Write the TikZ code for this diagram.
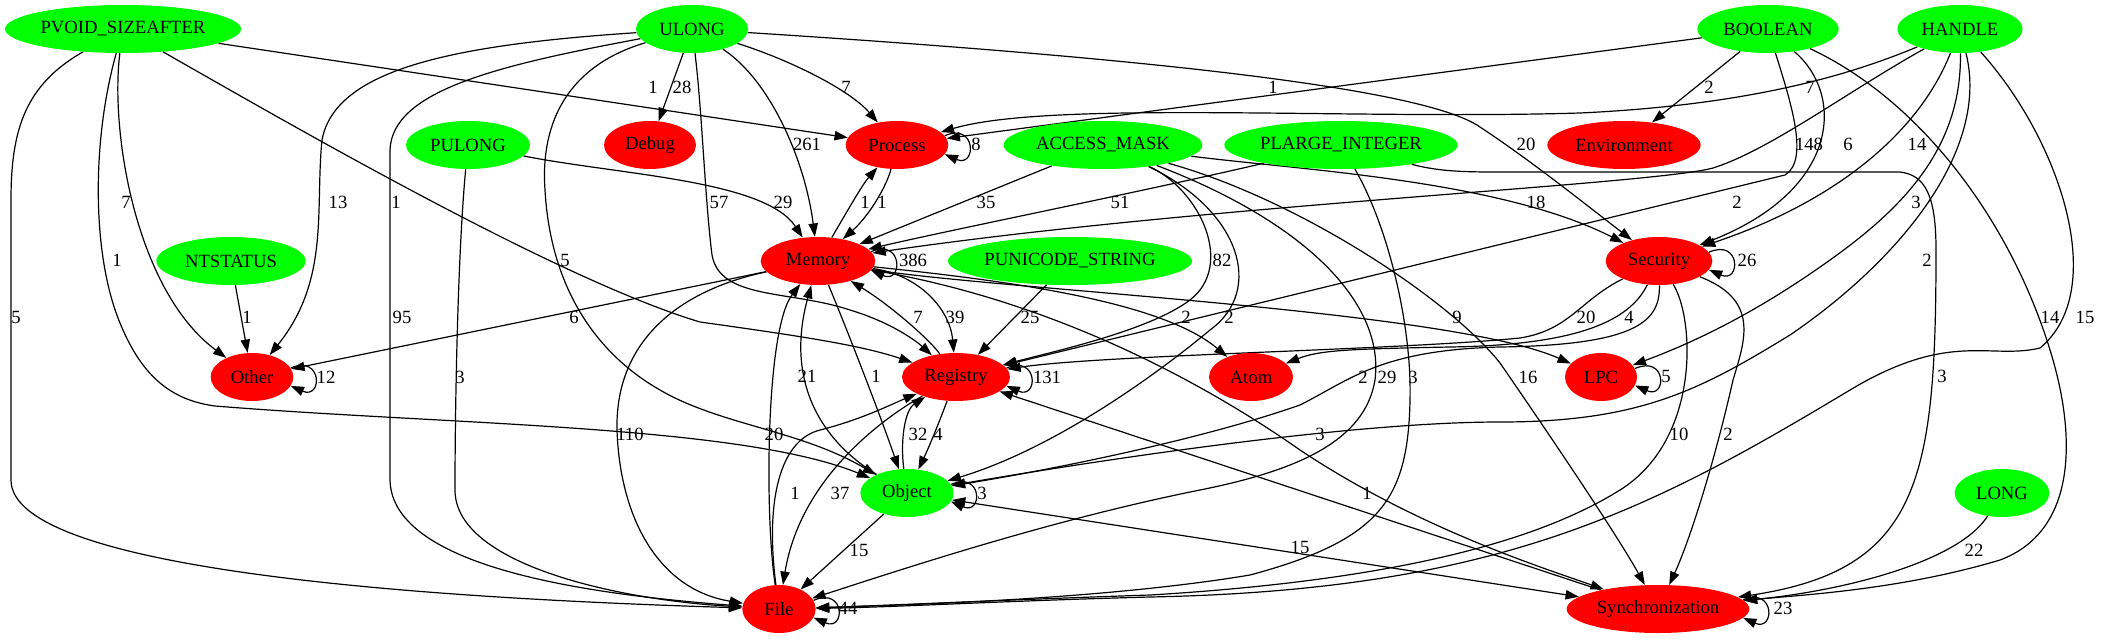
\documentclass[tikz,border=0pt]{standalone}
\usepackage{fontspec}
\setmainfont{Liberation Serif}
\usetikzlibrary{shapes.geometric,arrows.meta,backgrounds}
\definecolor{gcol}{HTML}{00FF00}
\definecolor{rcol}{HTML}{FF0000}
\newcommand{\nloop}[2]{\draw[conn] (#1.#2) .. controls +(32,-14) and +(32,14) .. (#1.-#2);}
\begin{document}
\begin{tikzpicture}[x=0.75pt,y=-0.75pt,
  vn/.style={ellipse,draw=none,inner sep=0pt,minimum height=36pt,font=\fontsize{14}{16}\selectfont},
  gn/.style={vn,fill=gcol},
  rn/.style={vn,fill=rcol},
  conn/.style={draw=black,line width=0.9pt,-{Triangle[length=10pt,width=7pt]}},
  conn2/.style={conn,{Triangle[length=10pt,width=7pt]}-{Triangle[length=10pt,width=7pt]}},
  lab/.style={inner sep=0pt,font=\fontsize{14}{16}\selectfont}]
\useasboundingbox (0,0) rectangle (2101,639);
% nodes
\node[gn,minimum width=177pt] (PV) at (123,29) {PVOID\_SIZEAFTER};
\node[gn,minimum width=84pt] (UL) at (692,29) {ULONG};
\node[gn,minimum width=106pt] (BO) at (1768,29) {BOOLEAN};
\node[gn,minimum width=94pt] (HA) at (1960,29) {HANDLE};
\node[gn,minimum width=93pt] (PU) at (468,145) {PULONG};
\node[rn,minimum width=69pt] (DE) at (650,145) {Debug};
\node[rn,minimum width=77pt] (PR) at (897,145) {Process};
\node[gn,minimum width=149pt] (AM) at (1103,145) {ACCESS\_MASK};
\node[gn,minimum width=175pt] (PL) at (1341,145) {PLARGE\_INTEGER};
\node[rn,minimum width=115pt] (EN) at (1624,145) {Environment};
\node[gn,minimum width=112pt] (NT) at (231,261) {NTSTATUS};
\node[rn,minimum width=86pt] (ME) at (818,261) {Memory};
\node[gn,minimum width=183pt] (PS) at (1070,261) {PUNICODE\_STRING};
\node[rn,minimum width=80pt] (SE) at (1659,261) {Security};
\node[rn,minimum width=62pt] (OT) at (252,377) {Other};
\node[rn,minimum width=81pt] (RE) at (956,377) {Registry};
\node[rn,minimum width=63pt] (AT) at (1251,377) {Atom};
\node[rn,minimum width=54pt] (LP) at (1601,377) {LPC};
\node[gn,minimum width=70pt] (OB) at (907,493) {Object};
\node[gn,minimum width=71pt] (LO) at (2002,493) {LONG};
\node[rn,minimum width=55pt] (FI) at (779,609) {File};
\node[rn,minimum width=137pt] (SY) at (1658,609) {Synchronization};
% edges
\begin{scope}[on background layer]
% PVOID_SIZEAFTER
\draw[conn] (PV) -- (PR);
\draw[conn] (PV) .. controls (110,130) and (135,290) .. (OT);
\draw[conn] (PV) .. controls (92,140) and (92,250) .. (118,318) .. controls (140,375) and (170,400) .. (215,406) .. controls (450,425) and (740,425) .. (OB);
\draw[conn] (PV) .. controls (25,85) and (11,130) .. (11,200) -- (11,480) .. controls (11,570) and (420,598) .. (FI);
\draw[conn] (PV) .. controls (300,130) and (560,280) .. (700,322) .. controls (800,336) and (860,345) .. (RE);
% ULONG
\draw[conn] (UL) -- (DE);
\draw[conn] (UL) .. controls (790,60) and (850,90) .. (PR);
\draw[conn] (UL) .. controls (770,80) and (805,160) .. (ME);
\draw[conn] (UL) .. controls (450,45) and (335,70) .. (322,140) .. controls (315,210) and (330,280) .. (OT);
\draw[conn] (UL) .. controls (500,65) and (392,90) .. (390,150) -- (390,480) .. controls (392,570) and (600,595) .. (FI);
\draw[conn] (UL) .. controls (570,65) and (540,120) .. (545,190) .. controls (550,280) and (590,350) .. (660,390) .. controls (720,425) and (800,430) .. (OB);
\draw[conn] (UL) .. controls (702,110) and (705,200) .. (712,255) .. controls (720,300) and (790,290) .. (850,310) .. controls (890,322) and (915,340) .. (RE);
\draw[conn] (UL) .. controls (1100,55) and (1420,85) .. (1480,127) .. controls (1530,160) and (1580,200) .. (SE);
% PULONG, NTSTATUS
\draw[conn] (PU) .. controls (620,175) and (765,180) .. (ME);
\draw[conn] (PU) .. controls (458,250) and (455,400) .. (455,490) .. controls (455,565) and (620,600) .. (FI);
\draw[conn] (NT) -- (OT);
% BOOLEAN
\draw[conn] (BO) -- (PR);
\draw[conn] (BO) -- (EN);
\draw[conn] (BO) .. controls (1845,95) and (1840,190) .. (SE);
\draw[conn] (BO) .. controls (1790,100) and (1810,160) .. (1785,175) -- (RE);
\draw[conn] (BO) .. controls (1920,100) and (2010,220) .. (2050,350) .. controls (2075,430) and (2080,530) .. (2000,560) .. controls (1900,590) and (1800,595) .. (SY);
% HANDLE
\draw[conn] (HA) .. controls (1850,75) and (1750,105) .. (1580,113) .. controls (1350,120) and (1050,100) .. (PR);
\draw[conn] (HA) .. controls (1850,90) and (1770,150) .. (1713,168) .. controls (1650,185) and (1200,205) .. (ME);
\draw[conn] (HA) .. controls (1920,130) and (1840,200) .. (SE);
\draw[conn] (HA) .. controls (1962,150) and (1900,210) .. (1830,260) .. controls (1760,310) and (1700,340) .. (LP);
\draw[conn] (HA) .. controls (1990,150) and (1900,260) .. (1790,335) .. controls (1700,390) and (1640,422) .. (1500,422) .. controls (1350,422) and (1100,460) .. (OB);
\draw[conn] (HA) .. controls (2060,140) and (2110,290) .. (2040,348) .. controls (1990,360) and (1950,330) .. (1850,390) .. controls (1650,510) and (1500,590) .. (1150,597) .. controls (1000,601) and (900,607) .. (FI);
% ACCESS_MASK
\draw[conn] (AM) -- (ME);
\draw[conn] (AM) .. controls (1300,170) and (1500,180) .. (SE);
\draw[conn] (AM) .. controls (1200,190) and (1235,265) .. (1190,300) .. controls (1150,330) and (1060,350) .. (RE);
\draw[conn] (AM) .. controls (1240,210) and (1265,290) .. (1210,330) .. controls (1150,380) and (1050,450) .. (OB);
\draw[conn] (AM) .. controls (1300,220) and (1385,300) .. (1375,380) .. controls (1365,440) and (1300,470) .. (1200,490) .. controls (1050,520) and (900,570) .. (FI);
\draw[conn] (AM) .. controls (1300,200) and (1450,300) .. (1500,363) .. controls (1560,450) and (1620,540) .. (SY);
% PLARGE_INTEGER, PUNICODE_STRING, LONG
\draw[conn] (PL) .. controls (1150,190) and (950,230) .. (ME);
\draw[conn] (PL) .. controls (1390,230) and (1412,330) .. (1410,400) .. controls (1408,500) and (1380,540) .. (1250,575) .. controls (1100,600) and (900,605) .. (FI);
\draw[conn] (PL) .. controls (1440,172) and (1470,172) .. (1500,172) -- (1900,172) .. controls (1925,175) and (1936,195) .. (1936,250) .. controls (1936,480) and (1920,570) .. (SY);
\draw[conn] (PS) -- (RE);
\draw[conn] (LO) .. controls (1960,560) and (1850,590) .. (SY);
% Memory and friends
\draw[conn] (ME) .. controls (845,215) and (862,185) .. (PR);
\draw[conn] (PR) .. controls (887,185) and (870,215) .. (ME);
\draw[conn] (RE) .. controls (930,340) and (890,305) .. (ME);
\draw[conn] (ME) .. controls (920,275) and (950,310) .. (RE);
\draw[conn] (OB) .. controls (820,440) and (785,380) .. (ME);
\draw[conn] (FI) .. controls (765,520) and (765,330) .. (ME);
\draw[conn] (ME) -- (OT);
\draw[conn] (ME) .. controls (1000,280) and (1160,300) .. (AT);
\draw[conn] (ME) .. controls (1000,290) and (1450,310) .. (LP);
\draw[conn] (ME) .. controls (835,300) and (875,400) .. (OB);
\draw[conn] (ME) .. controls (680,290) and (615,340) .. (617,430) .. controls (620,520) and (660,590) .. (FI);
\draw[conn] (ME) .. controls (1050,300) and (1200,380) .. (1300,450) .. controls (1420,530) and (1550,570) .. (SY);
% Security
\draw[conn] (SE) .. controls (1580,300) and (1570,330) .. (1520,338) .. controls (1400,350) and (1100,355) .. (RE);
\draw[conn] (SE) .. controls (1630,320) and (1580,345) .. (1450,347) .. controls (1350,349) and (1320,350) .. (AT);
\draw[conn] (SE) .. controls (1660,320) and (1640,345) .. (1500,347) .. controls (1380,350) and (1350,380) .. (1300,405) .. controls (1200,440) and (1050,470) .. (OB);
\draw[conn] (SE) .. controls (1695,320) and (1700,440) .. (1620,490) .. controls (1540,540) and (1400,580) .. (1150,595) .. controls (1000,600) and (900,605) .. (FI);
\draw[conn] (SE) .. controls (1760,300) and (1745,340) .. (1733,380) .. controls (1715,460) and (1690,540) .. (SY);
% Registry, Object, File, Synchronization
\draw[conn] (RE) .. controls (940,420) and (930,445) .. (OB);
\draw[conn] (OB) .. controls (900,440) and (905,410) .. (RE);
\draw[conn] (FI) .. controls (765,500) and (780,440) .. (820,430) .. controls (860,420) and (890,405) .. (RE);
\draw[conn] (RE) .. controls (880,420) and (800,480) .. (FI);
\draw[conn] (SY) -- (RE);
\draw[conn] (OB) -- (FI);
\draw[conn2] (OB) -- (SY);
% self loops
\nloop{PR}{11}
\nloop{ME}{10}
\nloop{SE}{10}
\nloop{OT}{13}
\nloop{RE}{10}
\nloop{OB}{11}
\nloop{LP}{14}
\nloop{FI}{14}
\nloop{SY}{6}
\end{scope}
% labels
\node[lab] (t1) at (653,87) {1};
\node[lab] (t2) at (682,87) {28};
\node[lab] (t3) at (846,87) {7};
\node[lab] (t4) at (1273,87) {1};
\node[lab] (t5) at (1709,87) {2};
\node[lab] (t6) at (1810,87) {7};
\node[lab] (t7) at (807,144) {261};
\node[lab] (t8) at (976,144) {8};
\node[lab] (t9) at (1526,144) {20};
\node[lab] (t10) at (1809,144) {148};
\node[lab] (t11) at (1848,144) {6};
\node[lab] (t12) at (1917,144) {14};
\node[lab] (t13) at (126,202) {7};
\node[lab] (t14) at (338,202) {13};
\node[lab] (t15) at (396,202) {1};
\node[lab] (t16) at (719,202) {57};
\node[lab] (t17) at (783,202) {29};
\node[lab] (t18) at (865,202) {1};
\node[lab] (t19) at (882,202) {1};
\node[lab] (t20) at (986,202) {35};
\node[lab] (t21) at (1120,202) {51};
\node[lab] (t22) at (1536,202) {18};
\node[lab] (t23) at (1737,202) {2};
\node[lab] (t24) at (1916,202) {3};
\node[lab] (t25) at (117,260) {1};
\node[lab] (t26) at (565,260) {5};
\node[lab] (t27) at (913,260) {386};
\node[lab] (t28) at (1222,260) {82};
\node[lab] (t29) at (1747,260) {26};
\node[lab] (t30) at (1927,260) {2};
\node[lab] (t31) at (16,317) {5};
\node[lab] (t32) at (247,317) {1};
\node[lab] (t33) at (402,317) {95};
\node[lab] (t34) at (574,317) {6};
\node[lab] (t35) at (918,317) {7};
\node[lab] (t36) at (955,317) {39};
\node[lab] (t37) at (1030,317) {25};
\node[lab] (t38) at (1186,317) {2};
\node[lab] (t39) at (1229,317) {2};
\node[lab] (t40) at (1457,317) {9};
\node[lab] (t41) at (1586,317) {20};
\node[lab] (t42) at (1629,317) {4};
\node[lab] (t43) at (2050,317) {14};
\node[lab] (t44) at (2085,317) {15};
\node[lab] (t45) at (326,377) {12};
\node[lab] (t46) at (460,377) {3};
\node[lab] (t47) at (807,376) {21};
\node[lab] (t48) at (876,376) {1};
\node[lab] (t49) at (1047,377) {131};
\node[lab] (t50) at (1363,377) {2};
\node[lab] (t51) at (1387,377) {29};
\node[lab] (t52) at (1413,377) {3};
\node[lab] (t53) at (1528,377) {16};
\node[lab] (t54) at (1666,376) {5};
\node[lab] (t55) at (1942,376) {3};
\node[lab] (t56) at (630,434) {110};
\node[lab] (t57) at (774,434) {20};
\node[lab] (t58) at (918,434) {32};
\node[lab] (t59) at (938,434) {4};
\node[lab] (t60) at (1320,434) {3};
\node[lab] (t61) at (1679,434) {10};
\node[lab] (t62) at (1728,434) {2};
\node[lab] (t63) at (795,493) {1};
\node[lab] (t64) at (840,493) {37};
\node[lab] (t65) at (982,493) {3};
\node[lab] (t66) at (1367,493) {1};
\node[lab] (t67) at (859,550) {15};
\node[lab] (t68) at (1300,547) {15};
\node[lab] (t69) at (1974,550) {22};
\node[lab] (t70) at (848,608) {44};
\node[lab] (t71) at (1783,608) {23};
\end{tikzpicture}
\end{document}
